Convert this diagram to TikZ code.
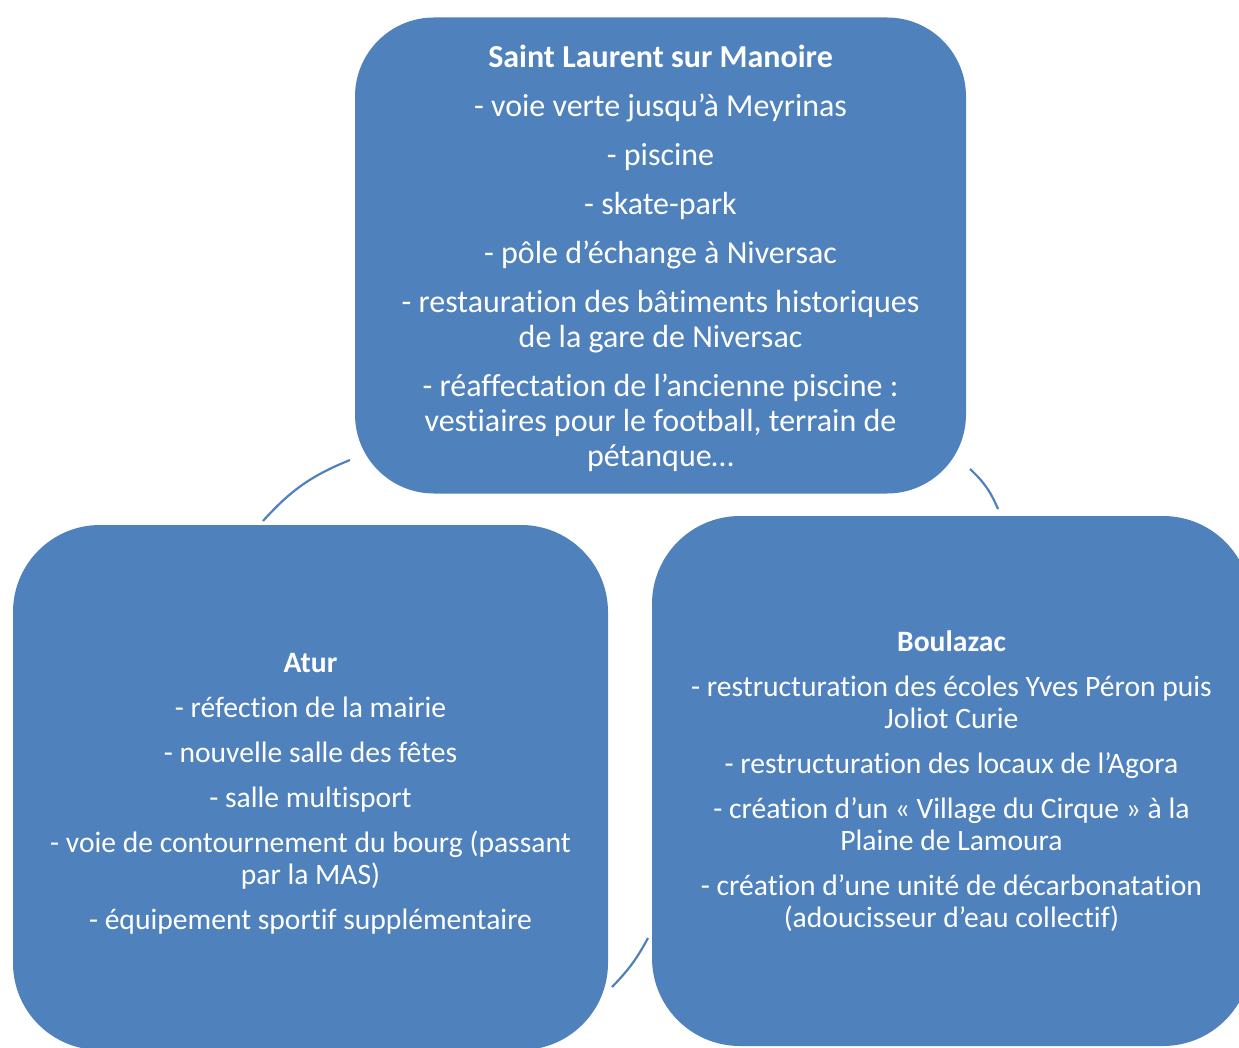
\documentclass[tikz,border=0pt]{standalone}
\usepackage{fontspec}
\setmainfont{Carlito}[Ligatures=NoCommon]
\usetikzlibrary{positioning}
\definecolor{boxblue}{HTML}{4F81BD}
\tikzset{
  box/.style={draw=none, fill=boxblue, text=white, align=center, inner sep=0pt, rectangle},
  topfont/.style={font=\fontsize{32}{35}\selectfont},
  lowfont/.style={font=\fontsize{29.6}{32}\selectfont},
  link/.style={draw=boxblue, line width=2.2pt}
}
\begin{document}
\begin{tikzpicture}[x=1pt,y=-1pt]
\useasboundingbox (0,0) rectangle (1239,1048);
\clip (0,0) rectangle (1239,1048);
\node[box, topfont, minimum width=611pt, minimum height=476pt, rounded corners=79pt] (top) at (660.5,255.5)
 {\rule{0pt}{29pt}\textbf{Saint Laurent sur Manoire}\\[14pt]
  - voie verte jusqu’à Meyrinas\\[14pt]
  - piscine\\[14pt]
  - skate-park\\[14pt]
  - pôle d’échange à Niversac\\[14pt]
  - restauration des bâtiments historiques\\
  de la gare de Niversac\\[14pt]
  - réaffectation de l’ancienne piscine :\\
  vestiaires pour le football, terrain de\\
  pétanque…};
\node[box, lowfont, minimum width=595pt, minimum height=525pt, rounded corners=87pt] (atur) at (310.5,787.5)
 {\rule{0pt}{31pt}\textbf{Atur}\\[13pt]
  - réfection de la mairie\\[13pt]
  - nouvelle salle des fêtes\\[13pt]
  - salle multisport\\[13pt]
  - voie de contournement du bourg (passant\\
  par la MAS)\\[13pt]
  - équipement sportif supplémentaire};
\node[box, lowfont, minimum width=599pt, minimum height=530pt, rounded corners=88pt] (boul) at (951.5,781)
 {\textbf{Boulazac}\\[13pt]
  - restructuration des écoles Yves Péron puis\\
  Joliot Curie\\[13pt]
  - restructuration des locaux de l’Agora\\[13pt]
  - création d’un «~Village du Cirque~» à la\\
  Plaine de Lamoura\\[13pt]
  - création d’une unité de décarbonatation\\
  (adoucisseur d’eau collectif)};
\coordinate (l1a) at (350,460);
\coordinate (l1b) at (263,521);
\coordinate (l2a) at (970,469);
\coordinate (l2b) at (998,509);
\coordinate (l3a) at (648,938);
\coordinate (l3b) at (612,987);
\draw[link] (l1a) to[bend right=13] (l1b);
\draw[link] (l2a) to[bend left=12] (l2b);
\draw[link] (l3a) to[bend left=8] (l3b);
\end{tikzpicture}
\end{document}
